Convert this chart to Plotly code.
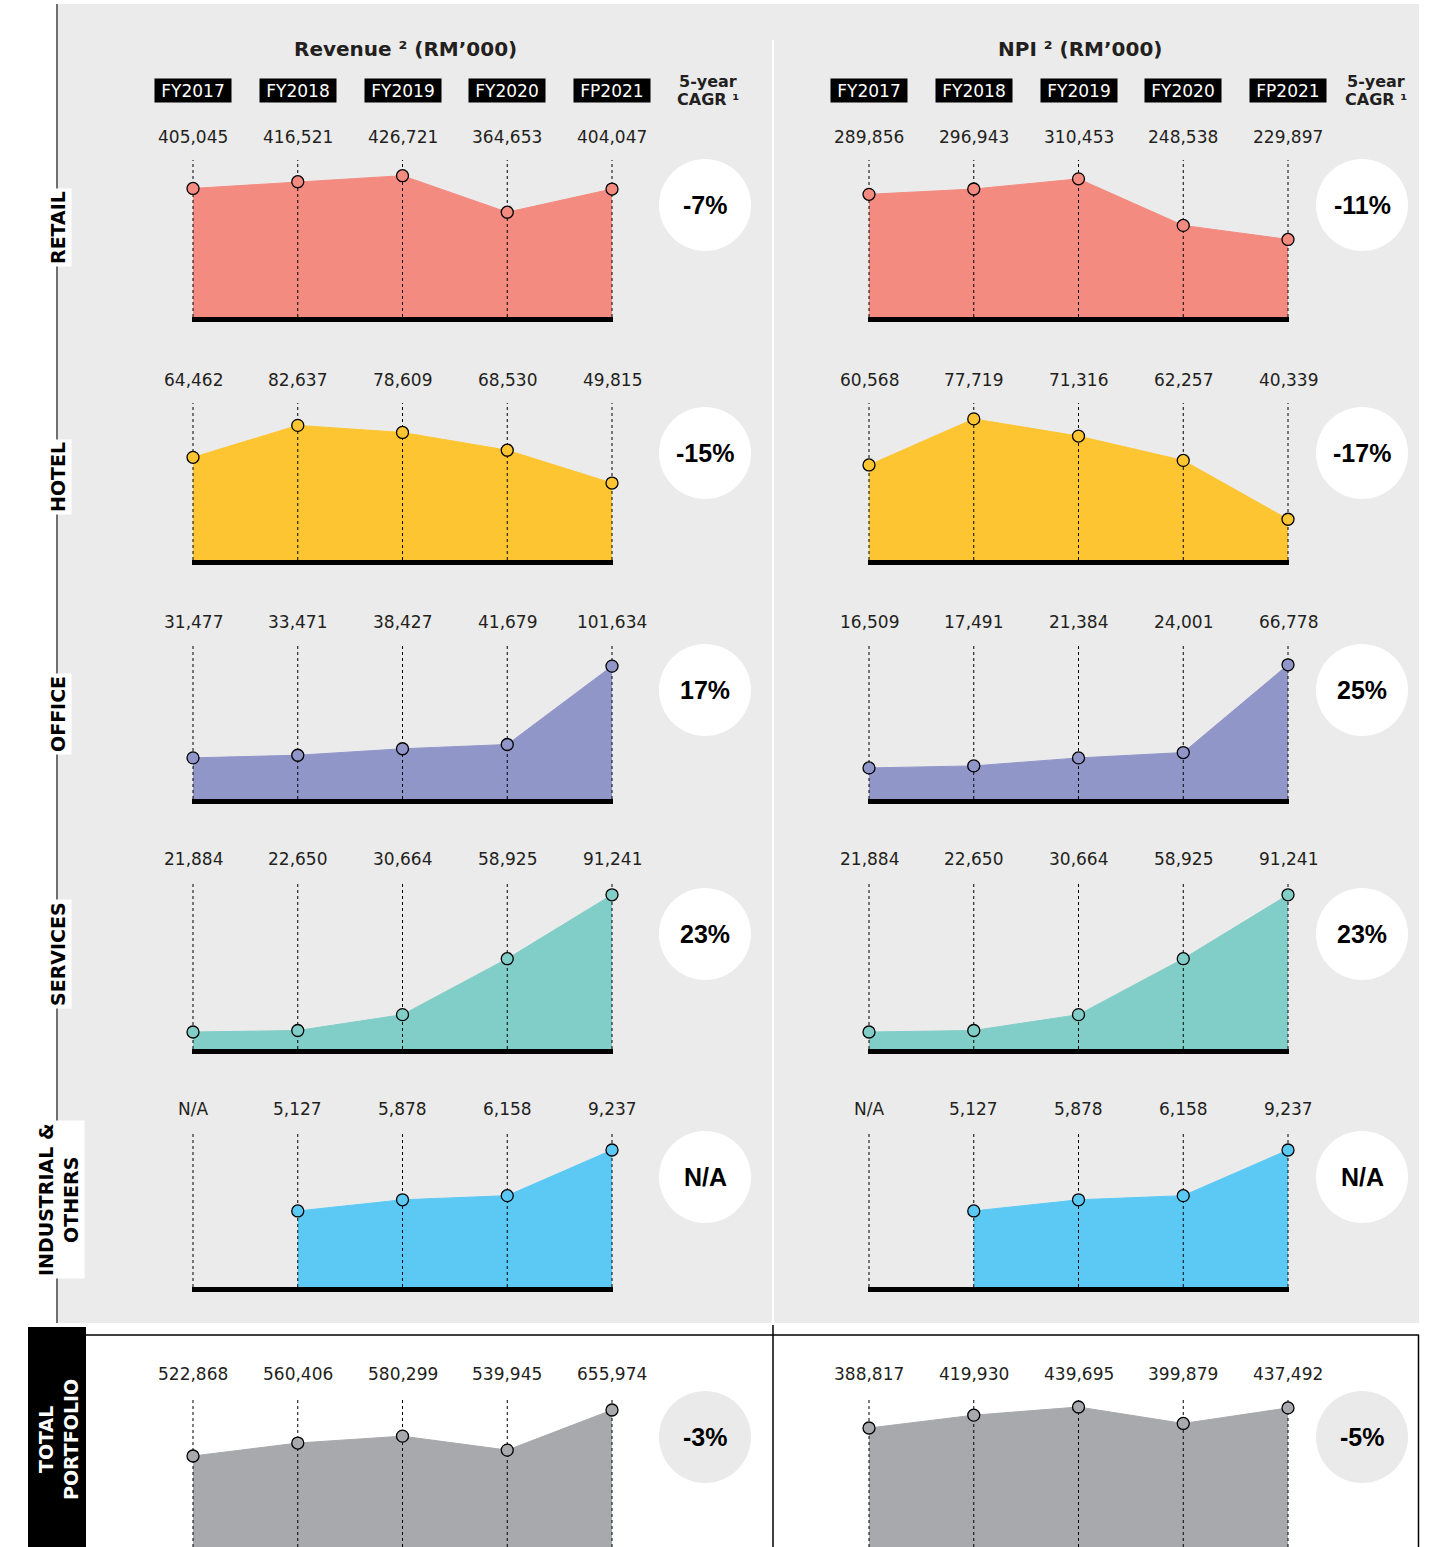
import plotly.graph_objects as go

# ---------------- data ----------------
periods = ["FY2017", "FY2018", "FY2019", "FY2020", "FP2021"]
segments = ["RETAIL", "HOTEL", "OFFICE", "SERVICES", "INDUSTRIAL &<br>OTHERS", "TOTAL<br>PORTFOLIO"]

revenue_retail = [405045, 416521, 426721, 364653, 404047]
revenue_hotel = [64462, 82637, 78609, 68530, 49815]
revenue_office = [31477, 33471, 38427, 41679, 101634]
revenue_services = [21884, 22650, 30664, 58925, 91241]
revenue_industrial = [None, 5127, 5878, 6158, 9237]
revenue_total = [522868, 560406, 580299, 539945, 655974]

npi_retail = [289856, 296943, 310453, 248538, 229897]
npi_hotel = [60568, 77719, 71316, 62257, 40339]
npi_office = [16509, 17491, 21384, 24001, 66778]
npi_services = [21884, 22650, 30664, 58925, 91241]
npi_industrial = [None, 5127, 5878, 6158, 9237]
npi_total = [388817, 419930, 439695, 399879, 437492]

revenue_cagr = ["-7%", "-15%", "17%", "23%", "N/A", "-3%"]
npi_cagr = ["-11%", "-17%", "25%", "23%", "N/A", "-5%"]

panel_titles = ["Revenue ² (RM’000)", "NPI ² (RM’000)"]

# ---------------- styling / layout config ----------------
W, H = 1432, 1547
colors = ["#F38B80", "#FDC531", "#9196C9", "#80CEC7", "#5CC9F4", "#A8A9AC"]
BG = "#EBEBEB"

row_top = [160, 403, 645, 882, 1132, 1397]
row_base = [317, 560, 799, 1049, 1287, 1547]
row_label_y = [228, 477, 714, 954, 1200, 1440]
row_circle_y = [205, 453, 690, 934, 1177, 1437]

rev_ranges = [(186500, 453400), (6050, 95370), (0, 117800), (13300, 97700), (0, 10450), (259560, 693590)]
npi_ranges = [(126800, 335500), (25170, 83640), (1356, 76420), (13300, 97700), (0, 10450), (100465, 463925)]

side_x0 = [193, 869]     # pixel of first period column
side_step = 104.75        # pixel distance between columns
circle_x = [705, 1362]
cagr_head_x = [708, 1376]
title_x = [405, 1080]

FONT_REG = "DejaVu Sans, Liberation Sans, Arial, sans-serif"
FONT_BOLD = "DejaVu Sans, Liberation Sans, Arial, sans-serif"
FONT_CAGR = "Liberation Sans, Arial, sans-serif"


def px(x):
    return x / W


def py(y):
    return 1 - y / H


fig = go.Figure()
layout = dict(
    width=W, height=H, autosize=False,
    margin=dict(l=0, r=0, t=0, b=0),
    paper_bgcolor="white", plot_bgcolor="rgba(0,0,0,0)",
    showlegend=False,
)
shapes = []
annotations = []

# background panels and frame lines
shapes.append(dict(type="rect", xref="paper", yref="paper", x0=px(57), x1=px(1419), y0=py(1323), y1=py(4),
                   fillcolor=BG, line=dict(width=0), layer="below"))
shapes.append(dict(type="line", xref="paper", yref="paper", x0=px(57), x1=px(57), y0=py(1323), y1=py(4),
                   line=dict(color="#707070", width=2), layer="below"))
shapes.append(dict(type="line", xref="paper", yref="paper", x0=px(773), x1=px(773), y0=py(1323), y1=py(40),
                   line=dict(color="white", width=2), layer="below"))
shapes.append(dict(type="line", xref="paper", yref="paper", x0=px(86), x1=px(1419), y0=py(1335), y1=py(1335),
                   line=dict(color="black", width=1.5), layer="below"))
shapes.append(dict(type="line", xref="paper", yref="paper", x0=px(1418.5), x1=px(1418.5), y0=py(1547), y1=py(1335),
                   line=dict(color="black", width=1.5), layer="below"))
shapes.append(dict(type="line", xref="paper", yref="paper", x0=px(773), x1=px(773), y0=py(1547), y1=py(1325),
                   line=dict(color="black", width=1.5), layer="below"))
shapes.append(dict(type="rect", xref="paper", yref="paper", x0=px(28), x1=px(86), y0=py(1547), y1=py(1327),
                   fillcolor="black", line=dict(width=0), layer="below"))

pad = 0.012
sides = [
    ([revenue_retail, revenue_hotel, revenue_office, revenue_services, revenue_industrial, revenue_total],
     rev_ranges, revenue_cagr),
    ([npi_retail, npi_hotel, npi_office, npi_services, npi_industrial, npi_total],
     npi_ranges, npi_cagr),
]

for s, (series_list, ranges, cagrs) in enumerate(sides):
    x_left = side_x0[s] - pad * side_step
    x_right = side_x0[s] + (len(periods) - 1 + pad) * side_step
    for r in range(len(segments)):
        k = s * len(segments) + r + 1
        xa = "x" if k == 1 else f"x{k}"
        ya = "y" if k == 1 else f"y{k}"
        xkey = "xaxis" if k == 1 else f"xaxis{k}"
        ykey = "yaxis" if k == 1 else f"yaxis{k}"
        lo, hi = ranges[r]
        vals = series_list[r]
        col = colors[r]
        xs = [i for i, v in enumerate(vals) if v is not None]
        ys = [v for v in vals if v is not None]

        # filled area
        fig.add_trace(go.Scatter(x=xs, y=ys, mode="lines", fill="tozeroy", fillcolor=col,
                                 line=dict(color=col, width=1), xaxis=xa, yaxis=ya, hoverinfo="skip"))
        # dotted period guides
        gx, gy = [], []
        for i in range(len(periods)):
            gx += [i, i, None]
            gy += [lo, hi, None]
        fig.add_trace(go.Scatter(x=gx, y=gy, mode="lines", line=dict(color="black", width=1, dash="dot"),
                                 xaxis=xa, yaxis=ya, hoverinfo="skip"))
        # markers
        fig.add_trace(go.Scatter(x=xs, y=ys, mode="markers", cliponaxis=False,
                                 marker=dict(size=12, color=col, line=dict(color="black", width=1.3)),
                                 xaxis=xa, yaxis=ya, hoverinfo="skip"))

        layout[xkey] = dict(domain=[px(x_left), px(x_right)], anchor=ya, range=[-pad, len(periods) - 1 + pad],
                            showgrid=False, zeroline=False, showticklabels=False, ticks="",
                            showline=(r < len(segments) - 1), linecolor="black", linewidth=5, fixedrange=True)
        layout[ykey] = dict(domain=[py(row_base[r]), py(row_top[r])], anchor=xa, range=[lo, hi],
                            visible=False, fixedrange=True)

        # value labels
        for i, v in enumerate(vals):
            annotations.append(dict(x=i, xref=xa, y=1, yref=f"{ya} domain", yshift=23, yanchor="middle",
                                    xanchor="center", showarrow=False,
                                    text=f"{v:,}" if v is not None else "N/A",
                                    font=dict(family=FONT_REG, size=17, color="#231F20")))

        # CAGR circle
        cy = row_circle_y[r]
        shapes.append(dict(type="circle", xref="paper", yref="paper", xsizemode="pixel", ysizemode="pixel",
                           xanchor=px(circle_x[s]), yanchor=py(cy), x0=-46, x1=46, y0=-46, y1=46,
                           fillcolor="white" if r < len(segments) - 1 else "#EAEAEA",
                           line=dict(width=0), layer="below"))
        annotations.append(dict(x=px(circle_x[s]), y=py(cy), xref="paper", yref="paper", showarrow=False,
                                xanchor="center", yanchor="middle", text=f"<b>{cagrs[r]}</b>",
                                font=dict(family=FONT_CAGR, size=25, color="black")))

    # headers
    xa_top = "x" if s == 0 else f"x{s * len(segments) + 1}"
    for i, p in enumerate(periods):
        annotations.append(dict(x=i, xref=xa_top, y=py(90), yref="paper", showarrow=False,
                                xanchor="center", yanchor="middle", text=p, bgcolor="black",
                                width=72, height=19, borderpad=2,
                                font=dict(family=FONT_REG, size=17, color="white")))
    annotations.append(dict(x=px(cagr_head_x[s]), y=py(81), xref="paper", yref="paper", showarrow=False,
                            xanchor="center", yanchor="middle", text="<b>5-year</b>",
                            font=dict(family=FONT_BOLD, size=16, color="#231F20")))
    annotations.append(dict(x=px(cagr_head_x[s]), y=py(100), xref="paper", yref="paper", showarrow=False,
                            xanchor="center", yanchor="middle", text="<b>CAGR ¹</b>",
                            font=dict(family=FONT_BOLD, size=16, color="#231F20")))
    annotations.append(dict(x=px(title_x[s]), y=py(49), xref="paper", yref="paper", showarrow=False,
                            xanchor="center", yanchor="middle", text=f"<b>{panel_titles[s]}</b>",
                            font=dict(family=FONT_BOLD, size=20, color="#231F20")))

# row labels
for r, seg in enumerate(segments):
    last = r == len(segments) - 1
    annotations.append(dict(x=px(58), y=py(row_label_y[r]), xref="paper", yref="paper", showarrow=False,
                            xanchor="center", yanchor="middle", textangle=-90, text=f"<b>{seg}</b>",
                            align="center",
                            bgcolor="rgba(0,0,0,0)" if last else "white", borderpad=2,
                            font=dict(family=FONT_BOLD, size=19, color="white" if last else "black")))

layout["shapes"] = shapes
layout["annotations"] = annotations
fig.update_layout(**layout)
fig.write_html("out.html", config={"displayModeBar": False},
               post_script="document.body.style.margin='0';document.body.style.overflow='hidden';")
